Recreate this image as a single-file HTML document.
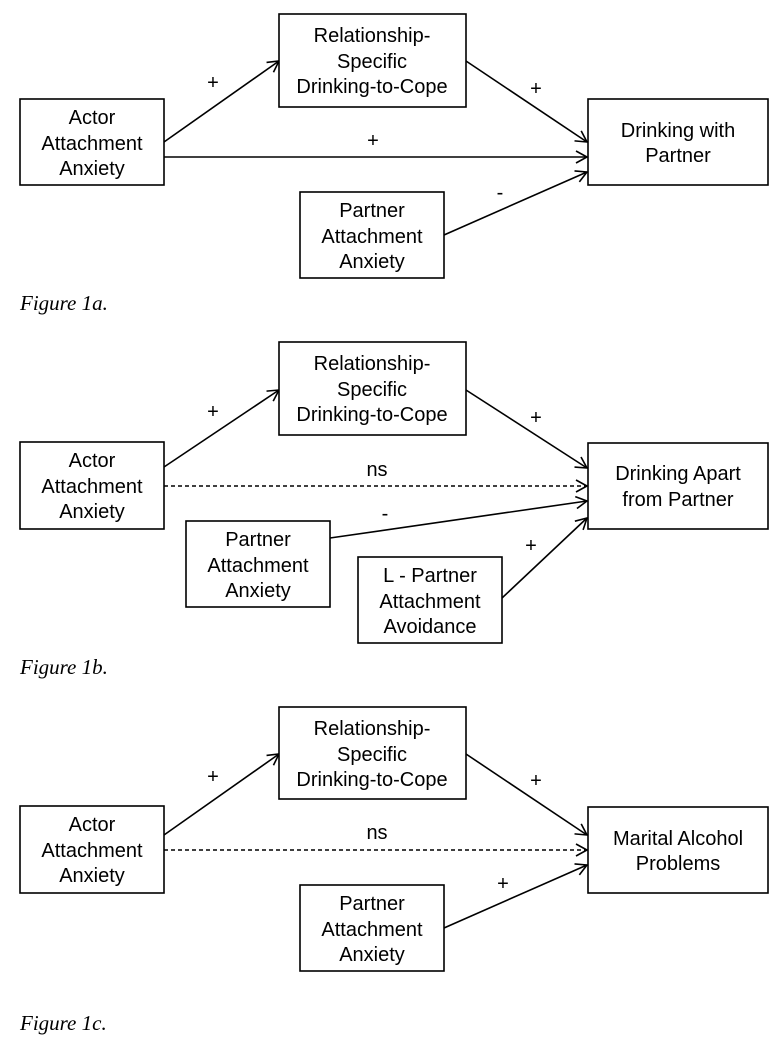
<!DOCTYPE html>
<html><head><meta charset="utf-8"><style>
html,body{margin:0;padding:0;background:#fff}
svg{display:block}
.t{font-family:"Liberation Sans",Arial,sans-serif;font-size:20px;fill:#000;text-anchor:middle}
.f{font-family:"Liberation Serif",serif;font-style:italic;font-size:21px;fill:#000}
rect{fill:#fff;stroke:#000;stroke-width:1.6}
line{stroke:#000;stroke-width:1.6}
.d{stroke-dasharray:4,3}
</style></head><body>
<svg width="781" height="1048" viewBox="0 0 781 1048">
<defs><marker id="a" markerWidth="14" markerHeight="14" refX="12" refY="7" orient="auto" markerUnits="userSpaceOnUse"><path d="M1,1 L12,7 L1,13" fill="none" stroke="#000" stroke-width="1.6"/></marker></defs>

<!-- Fig 1a -->
<line x1="164" y1="142" x2="279" y2="61" marker-end="url(#a)"/>
<line x1="466" y1="61" x2="587" y2="142" marker-end="url(#a)"/>
<line x1="164" y1="157" x2="587" y2="157" marker-end="url(#a)"/>
<line x1="444" y1="235" x2="587" y2="172" marker-end="url(#a)"/>
<rect x="20" y="99" width="144" height="86"/>
<rect x="279" y="14" width="187" height="93"/>
<rect x="588" y="99" width="180" height="86"/>
<rect x="300" y="192" width="144" height="86"/>
<text class="t" x="92" y="124">Actor</text><text class="t" x="92" y="150">Attachment</text><text class="t" x="92" y="175">Anxiety</text>
<text class="t" x="372" y="42">Relationship-</text><text class="t" x="372" y="68">Specific</text><text class="t" x="372" y="93">Drinking-to-Cope</text>
<text class="t" x="678" y="137">Drinking with</text><text class="t" x="678" y="162">Partner</text>
<text class="t" x="372" y="217">Partner</text><text class="t" x="372" y="243">Attachment</text><text class="t" x="372" y="268">Anxiety</text>
<text class="t" x="213" y="89">+</text><text class="t" x="536" y="95">+</text><text class="t" x="373" y="147">+</text><text class="t" x="500" y="199">-</text>
<text class="f" x="20" y="310">Figure 1a.</text>

<!-- Fig 1b -->
<line x1="164" y1="467" x2="279" y2="390" marker-end="url(#a)"/>
<line x1="466" y1="390" x2="587" y2="468" marker-end="url(#a)"/>
<line class="d" x1="164" y1="486" x2="587" y2="486" marker-end="url(#a)"/>
<line x1="330" y1="538" x2="587" y2="501" marker-end="url(#a)"/>
<line x1="502" y1="598" x2="587" y2="518" marker-end="url(#a)"/>
<rect x="279" y="342" width="187" height="93"/>
<rect x="20" y="442" width="144" height="87"/>
<rect x="588" y="443" width="180" height="86"/>
<rect x="186" y="521" width="144" height="86"/>
<rect x="358" y="557" width="144" height="86"/>
<text class="t" x="372" y="370">Relationship-</text><text class="t" x="372" y="396">Specific</text><text class="t" x="372" y="421">Drinking-to-Cope</text>
<text class="t" x="92" y="467">Actor</text><text class="t" x="92" y="493">Attachment</text><text class="t" x="92" y="518">Anxiety</text>
<text class="t" x="678" y="480">Drinking Apart</text><text class="t" x="678" y="506">from Partner</text>
<text class="t" x="258" y="546">Partner</text><text class="t" x="258" y="572">Attachment</text><text class="t" x="258" y="597">Anxiety</text>
<text class="t" x="430" y="582">L - Partner</text><text class="t" x="430" y="608">Attachment</text><text class="t" x="430" y="633">Avoidance</text>
<text class="t" x="213" y="418">+</text><text class="t" x="536" y="424">+</text><text class="t" x="377" y="476">ns</text><text class="t" x="385" y="520">-</text><text class="t" x="531" y="552">+</text>
<text class="f" x="20" y="674">Figure 1b.</text>

<!-- Fig 1c -->
<line x1="164" y1="835" x2="279" y2="754" marker-end="url(#a)"/>
<line x1="466" y1="754" x2="587" y2="835" marker-end="url(#a)"/>
<line class="d" x1="164" y1="850" x2="587" y2="850" marker-end="url(#a)"/>
<line x1="444" y1="928" x2="587" y2="865" marker-end="url(#a)"/>
<rect x="279" y="707" width="187" height="92"/>
<rect x="20" y="806" width="144" height="87"/>
<rect x="588" y="807" width="180" height="86"/>
<rect x="300" y="885" width="144" height="86"/>
<text class="t" x="372" y="735">Relationship-</text><text class="t" x="372" y="761">Specific</text><text class="t" x="372" y="786">Drinking-to-Cope</text>
<text class="t" x="92" y="831">Actor</text><text class="t" x="92" y="857">Attachment</text><text class="t" x="92" y="882">Anxiety</text>
<text class="t" x="678" y="845">Marital Alcohol</text><text class="t" x="678" y="870">Problems</text>
<text class="t" x="372" y="910">Partner</text><text class="t" x="372" y="936">Attachment</text><text class="t" x="372" y="961">Anxiety</text>
<text class="t" x="213" y="783">+</text><text class="t" x="536" y="787">+</text><text class="t" x="377" y="839">ns</text><text class="t" x="503" y="890">+</text>
<text class="f" x="20" y="1030">Figure 1c.</text>
</svg>
</body></html>
